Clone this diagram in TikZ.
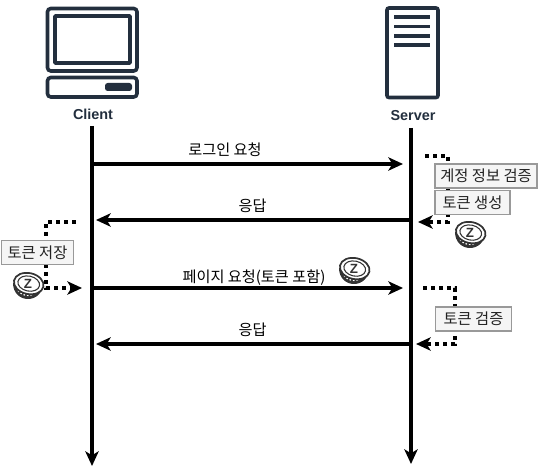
\documentclass[tikz,border=0pt]{standalone}
\usepackage{fontspec}
\setmainfont{Liberation Sans}
\newfontfamily\krfont{Noto Sans CJK KR}
\usetikzlibrary{arrows.meta}
\definecolor{icon}{HTML}{232F3E}
\definecolor{boxline}{HTML}{999999}
\definecolor{boxfill}{HTML}{F5F5F5}
\definecolor{txt}{HTML}{222222}
\definecolor{coinc}{HTML}{333333}
\tikzset{
  x=0.75pt,y=-0.75pt,
  iconline/.style={draw=icon,line width=2.7pt,rounded corners=2.5pt},
  lifeline/.style={draw=black,line width=2.4pt,-{Stealth[length=11pt,width=10pt,inset=3pt]}},
  msg/.style={draw=black,line width=2.4pt,-{Stealth[length=11pt,width=10pt,inset=3pt]}},
  dots/.style={draw=black,line width=2.6pt,dash pattern=on 3pt off 3pt},
  dotarrow/.style={dots,-{Stealth[length=11pt,width=10pt,inset=3pt]}},
  notebox/.style={draw=boxline,fill=boxfill,line width=1.4pt,inner sep=0pt,minimum height=18pt,font=\krfont\fontsize{11.5}{13}\selectfont,text=txt},
  msglabel/.style={inner sep=0pt,font=\krfont\fontsize{11.4}{13}\selectfont,text=black},
  actor/.style={inner sep=0pt,font=\bfseries\fontsize{10.8}{12}\selectfont,text=icon},
  pics/coin/.style={code={
    \fill[coinc] (-15,-4) .. controls (-15,6) and (-8,12) .. (0,12) .. controls (8,12) and (15,6) .. (15,-4) -- cycle;
    \draw[white,line width=1pt,dash pattern=on 1.2pt off 1.4pt] (-10,3.5) .. controls (-5,10) and (5,10) .. (10,3.5);
    \draw[coinc,line width=1.3pt,fill=white,rotate=-12] (0,-3.5) ellipse (15 and 10.5);
    \draw[coinc,line width=0.8pt,fill=white,rotate=-12] (0,-3.5) ellipse (11 and 7.5);
    \node[inner sep=0pt,font=\bfseries\fontsize{10}{10}\selectfont,text=coinc] at (0,-3.5) {Z};
  }}
}
\begin{document}
\begin{tikzpicture}
\useasboundingbox (0,0) rectangle (539,466);
% client icon
\draw[iconline] (47.5,8.5) rectangle (137,71);
\draw[iconline,rounded corners=0.5pt] (55,16) rectangle (130,63);
\draw[iconline] (47.5,77.5) rectangle (137,97);
\fill[icon,rounded corners=2pt] (105,83) rectangle (132,91);
% server icon
\draw[iconline,rounded corners=1.5pt] (387,8) rectangle (438,97.5);
\foreach \yy in {17,26.5,36,45} \draw[icon,line width=2.7pt] (394,\yy) -- (430,\yy);
% actors
\node[actor] (client) at (93,114) {Client};
\node[actor] (server) at (413,116) {Server};
% lifeline anchors
\coordinate (cTop) at (92,126);
\coordinate (cEnd) at (92,466);
\coordinate (sTop) at (411,128);
\coordinate (sEnd) at (411,464);
\draw[lifeline] (cTop) -- (cEnd);
\draw[lifeline] (sTop) -- (sEnd);
% messages
\coordinate (c1) at (92,164); \coordinate (s1) at (403,164);
\coordinate (s2) at (411,220); \coordinate (c2) at (96,220);
\coordinate (c3) at (92,288); \coordinate (s3) at (403,288);
\coordinate (s4) at (411,344); \coordinate (c4) at (96,344);
\draw[msg] (c1) -- (s1);
\draw[msg] (s2) -- (c2);
\draw[msg] (c3) -- (s3);
\draw[msg] (s4) -- (c4);
\node[msglabel] (m1) at (225,150) {로그인 요청};
\node[msglabel] (m2) at (252.5,206) {응답};
\node[msglabel] (m3) at (254,278) {페이지 요청(토큰 포함)};
\node[msglabel] (m4) at (252.5,330) {응답};
% self loops
\coordinate (a1) at (425,156); \coordinate (a2) at (418,222);
\coordinate (b1) at (76,222); \coordinate (b2) at (82,288);
\coordinate (d1) at (423,288); \coordinate (d2) at (416,344);
\draw[dotarrow] (a1) -- (448,156) -- (448,222) -- (a2);
\draw[dotarrow] (b1) -- (46,222) -- (46,288) -- (b2);
\draw[dotarrow] (d1) -- (455,288) -- (455,344) -- (d2);
% notes
\node[notebox,minimum width=76.5pt] (n1) at (486,176) {계정 정보 검증};
\node[notebox,minimum width=56pt] (n2) at (472.5,202.5) {토큰 생성};
\node[notebox,minimum width=54pt] (n3) at (37.5,252.5) {토큰 저장};
\node[notebox,minimum width=57pt] (n4) at (473.5,319) {토큰 검증};
% coins
\pic at (470,236) {coin};
\pic at (28,287) {coin};
\pic at (354,272) {coin};
\end{tikzpicture}
\end{document}
